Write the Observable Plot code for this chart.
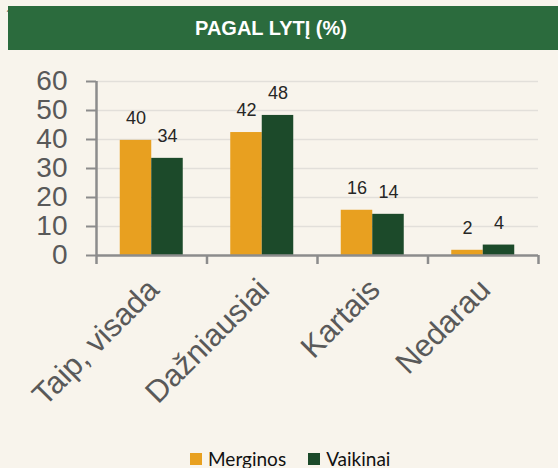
<!DOCTYPE html>
<html>
<head>
<meta charset="utf-8">
<script src="https://cdn.jsdelivr.net/npm/d3@7"></script>
<script src="https://cdn.jsdelivr.net/npm/@observablehq/plot@0.6"></script>
<style>
  html, body { margin: 0; padding: 0; background: #F8F4EC; width: 558px; height: 468px; overflow: hidden; }
  #banner { position: absolute; left: 8px; top: 6px; width: 550px; height: 44px; background: #2B6B3D;
    color: #fff; font: bold 20px "Liberation Sans", Arial, sans-serif; line-height: 44px; text-align: center;
    box-sizing: border-box; padding-right: 24px; z-index: 2; }
  #chart { position: absolute; left: 0; top: 0; }
  #legend { position: absolute; left: 190px; top: 447px; display: flex; gap: 22px;
    font: 19px Lato, "Open Sans", sans-serif; color: #111; }
  .item { display: flex; align-items: center; }
  .sw { width: 12px; height: 12px; margin-right: 6px; }
</style>
</head>
<body>
<div id="banner">PAGAL LYTĮ (%)</div>
<div id="chart"></div>
<div id="legend"></div>
<script>
const title = "PAGAL LYTĮ (%)";
const categories = ["Taip, visada", "Dažniausiai", "Kartais", "Nedarau"];
const series = ["Merginos", "Vaikinai"];
const colors = ["#E8A020", "#1C4A2A"];
const merginos = [39.7, 42.4, 15.6, 1.8];
const vaikinai = [33.5, 48.3, 14.2, 3.6];
const yTicks = [0, 10, 20, 30, 40, 50, 60];

const bw = 0.285; // bar width as fraction of category band
const rows = categories.flatMap((c, i) => [
  {i, s: 0, cat: c, v: merginos[i]},
  {i, s: 1, cat: c, v: vaikinai[i]}
]);
const x1 = d => d.i + 0.5 + (d.s - 1) * bw;
const xc = d => d.i + 0.5 + (d.s - 0.5) * bw;

const chart = Plot.plot({
  width: 558,
  height: 440,
  marginLeft: 96,
  marginRight: 20,
  marginTop: 81,
  marginBottom: 185,
  style: {fontFamily: '"Liberation Sans", Arial, sans-serif', background: "transparent", overflow: "visible"},
  x: {domain: [0, categories.length], axis: null},
  y: {domain: [0, 60], axis: null},
  color: {domain: series, range: colors},
  marks: [
    Plot.gridY(yTicks.slice(1), {stroke: "#e2dfda", strokeOpacity: 1, strokeWidth: 1.5}),
    Plot.rectY(rows, {x1: x1, x2: d => x1(d) + bw, y1: 0, y2: "v", fill: d => series[d.s]}),
    Plot.text(rows, {x: xc, y: "v", text: d => String(Math.round(d.v)), dy: -22, fontSize: 18, fill: "#262626"}),
    Plot.ruleX([0], {stroke: "#8c8c8c", strokeWidth: 2.5}),
    Plot.ruleY([0], {stroke: "#8c8c8c", strokeWidth: 2.5}),
    Plot.axisY({ticks: yTicks, tickSize: 10, tickPadding: 19, fontSize: 28, fill: "#595959", stroke: "#8c8c8c", strokeWidth: 2}),
    Plot.axisX({ticks: d3.range(categories.length + 1), tickFormat: () => "", tickSize: 9, stroke: "#8c8c8c", strokeWidth: 2.5}),
    Plot.text(categories, {x: (d, i) => i + 0.5, frameAnchor: "bottom", text: d => d, rotate: -45,
      textAnchor: "end", lineAnchor: "bottom", dx: 9, dy: 36, fontSize: 31, fill: "#595959"})
  ]
});
document.getElementById("chart").appendChild(chart);

const legend = document.getElementById("legend");
series.forEach((s, k) => {
  const it = document.createElement("div");
  it.className = "item";
  it.innerHTML = `<div class="sw" style="background:${colors[k]}"></div><span>${s}</span>`;
  legend.appendChild(it);
});
</script>
</body>
</html>
